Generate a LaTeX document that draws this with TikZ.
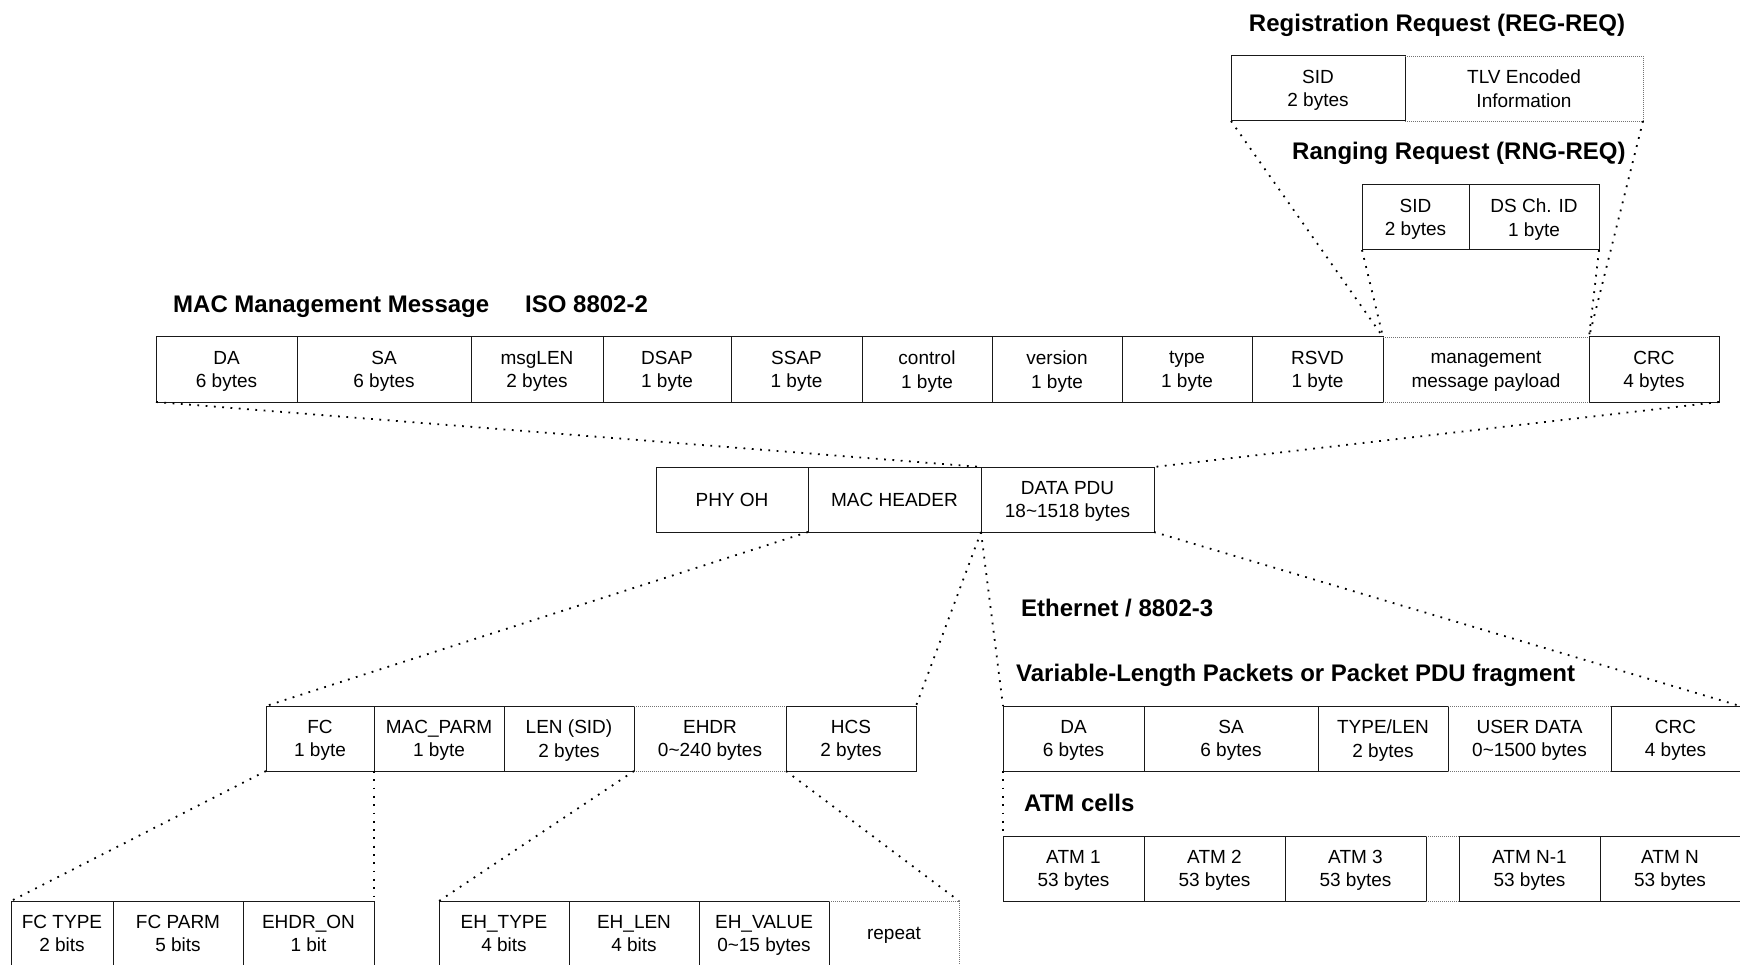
\documentclass[tikz,border=0pt]{standalone}
\usepackage{fontspec}
\setmainfont{Liberation Sans}
\newcommand{\tld}{\textasciitilde}
\newcommand{\cellsize}{\fontsize{19}{23.3}\selectfont}
\newcommand{\headsize}{\fontsize{24}{28}\selectfont\bfseries}

\begin{document}
\begin{tikzpicture}[x=1pt, y=-1pt,
        cell/.style={draw=black!90, line width=1pt, rectangle, inner sep=0pt, outer sep=0pt,
            align=center, font=\cellsize, text depth=0pt, anchor=north west, minimum height=65pt},
        gapcell/.style={cell, draw=none},
        edge/.style={draw=black!55, line width=0.8pt, dash pattern=on 0.8pt off 1.2pt},
        link/.style={line width=1.8pt, dash pattern=on 1.8pt off 6.5pt},
        head/.style={font=\headsize, inner sep=0pt}]
            \useasboundingbox (0,0) rectangle (1740,965);
            \clip (0,0) rectangle (1740,965);

            \node[head, anchor=base] (regtitle) at (1437,32) {Registration Request (REG-REQ)};
            \node[head, anchor=base west] (rngtitle) at (1292,160) {Ranging Request (RNG-REQ)};
            \node[head, anchor=base west] (mmtitle) at (173,313) {MAC Management Message};
            \node[head, anchor=base west] (isotitle) at (525,313) {ISO 8802-2};
            \node[head, anchor=base west] (ethtitle) at (1021,616) {Ethernet / 8802-3};
            \node[head, anchor=base west] (vartitle) at (1016,681) {Variable-Length Packets or Packet PDU fragment};
            \node[head, anchor=base west] (atmtitle) at (1024,811) {ATM cells};

            \foreach \a/\b/\sty/\txt [count=\n, evaluate=\b as \w using \b-\a] in
                {1231/1405/cell/{SID\\2 bytes}, 1405/1643/gapcell/{TLV Encoded\\Information}}
                {\node[\sty, minimum width=\w pt] (reg\n) at (\a,56) {\txt};}

            \foreach \a/\b/\sty/\txt [count=\n, evaluate=\b as \w using \b-\a] in
                {1362/1469/cell/{SID\\2 bytes}, 1469/1599/cell/{DS Ch. ID\\1 byte}}
                {\node[\sty, minimum width=\w pt] (rng\n) at (\a,185) {\txt};}

            \foreach \a/\b/\sty/\txt [count=\n, evaluate=\b as \w using \b-\a] in
                {156/297/cell/{DA\\6 bytes}, 297/471/cell/{SA\\6 bytes},
                 471/603/cell/{msgLEN\\2 bytes}, 603/731/cell/{DSAP\\1 byte},
                 731/862/cell/{SSAP\\1 byte}, 862/992/cell/{control\\1 byte},
                 992/1122/cell/{version\\1 byte}, 1122/1252/cell/{type\\1 byte},
                 1252/1383/cell/{RSVD\\1 byte}, 1383/1589/gapcell/{management\\message payload},
                 1589/1719/cell/{CRC\\4 bytes}}
                {\node[\sty, minimum width=\w pt] (mm\n) at (\a,337) {\txt};}

            \foreach \a/\b/\sty/\txt [count=\n, evaluate=\b as \w using \b-\a] in
                {656/808/cell/{PHY OH}, 808/981/cell/{MAC HEADER},
                 981/1154/cell/{DATA PDU\\18\tld1518 bytes}}
                {\node[\sty, minimum width=\w pt] (ph\n) at (\a,467) {\txt};}

            \foreach \a/\b/\sty/\txt [count=\n, evaluate=\b as \w using \b-\a] in
                {266/374/cell/{FC\\1 byte}, 374/504/cell/{MAC\_PARM\\1 byte},
                 504/634/cell/{LEN (SID)\\2 bytes}, 634/786/gapcell/{EHDR\\0\tld240 bytes},
                 786/916/cell/{HCS\\2 bytes}}
                {\node[\sty, minimum width=\w pt] (mh\n) at (\a,706) {\txt};}

            \foreach \a/\b/\sty/\txt [count=\n, evaluate=\b as \w using \b-\a] in
                {11/113/cell/{FC TYPE\\2 bits}, 113/243/cell/{FC PARM\\5 bits},
                 243/374/cell/{EHDR\_ON\\1 bit}}
                {\node[\sty, minimum width=\w pt] (fc\n) at (\a,901) {\txt};}

            \foreach \a/\b/\sty/\txt [count=\n, evaluate=\b as \w using \b-\a] in
                {439/569/cell/{EH\_TYPE\\4 bits}, 569/699/cell/{EH\_LEN\\4 bits},
                 699/829/cell/{EH\_VALUE\\0\tld15 bytes}, 829/959/gapcell/{repeat}}
                {\node[\sty, minimum width=\w pt] (eh\n) at (\a,901) {\txt};}

            \foreach \a/\b/\sty/\txt [count=\n, evaluate=\b as \w using \b-\a] in
                {1003/1144/cell/{DA\\6 bytes}, 1144/1318/cell/{SA\\6 bytes},
                 1318/1448/cell/{TYPE/LEN\\2 bytes}, 1448/1611/gapcell/{USER DATA\\0\tld1500 bytes},
                 1611/1740/cell/{CRC\\4 bytes}}
                {\node[\sty, minimum width=\w pt] (en\n) at (\a,706) {\txt};}

            \foreach \a/\b/\sty/\txt [count=\n, evaluate=\b as \w using \b-\a] in
                {1003/1144/cell/{ATM 1\\53 bytes}, 1144/1285/cell/{ATM 2\\53 bytes},
                 1285/1426/cell/{ATM 3\\53 bytes}, 1426/1459/gapcell/{},
                 1459/1600/cell/{ATM N-1\\53 bytes}, 1600/1740/cell/{ATM N\\53 bytes}}
                {\node[\sty, minimum width=\w pt] (atm\n) at (\a,836) {\txt};}

            \foreach \c in {mm10, mh4, en4, atm4}
                {\draw[edge] (\c.north west) -- (\c.north east) (\c.south west) -- (\c.south east);}
            \draw[edge] (reg2.north west) -- (reg2.north east) -- (reg2.south east) -- (reg2.south west);
            \draw[edge] (eh4.north west) -- (eh4.north east) -- (eh4.south east);

            \draw[link] (reg1.south west) -- (mm10.north west);
            \draw[link] (reg2.south east) -- (mm10.north east);
            \draw[link] (rng1.south west) -- (mm10.north west);
            \draw[link] (rng2.south east) -- (mm10.north east);
            \draw[link] (mm1.south west) -- (ph3.north west);
            \draw[link] (mm11.south east) -- (ph3.north east);
            \draw[link] (ph2.south west) -- (mh1.north west);
            \draw[link] (ph3.south west) -- (mh5.north east);
            \draw[link] (ph3.south west) -- (en1.north west);
            \draw[link] (en1.south west) -- (atm1.north west);
            \draw[link] (ph3.south east) -- (en5.north east);
            \draw[link] (mh1.south west) -- (fc1.north west);
            \draw[link] (mh2.south west) -- (fc3.north east);
            \draw[link] (mh4.south west) -- (eh1.north west);
            \draw[link] (mh4.south east) -- (eh4.north east);
        \end{tikzpicture}
\end{document}
